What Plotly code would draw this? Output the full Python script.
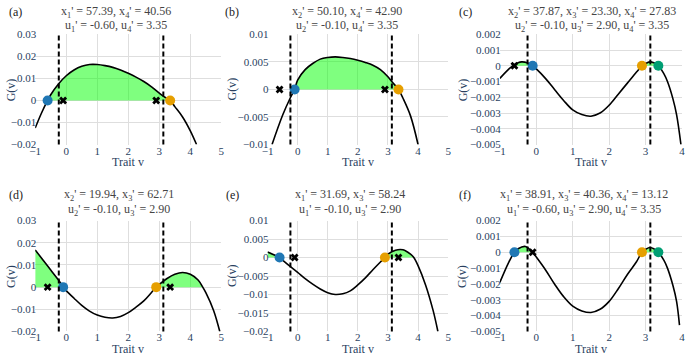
import plotly.graph_objects as go

FONT = "Liberation Serif"
W, H = 688, 360

# ---------------- data ----------------
traits = [-0.60, -0.10, 2.90, 3.35]          # u1..u4
dash_v = [-0.24, 3.13]                      # vertical dashed reference lines

v_a = [-1.0, -0.8, -0.6, -0.5, -0.25, 0, 0.25, 0.5, 0.75, 1.0, 1.25, 1.5, 1.75, 2.0,
       2.25, 2.5, 2.75, 3.0, 3.15, 3.35, 3.5, 3.75, 4.0, 4.2]
G_a = [-0.0125, -0.0058, 0, 0.0026, 0.0075, 0.0112, 0.0138, 0.0155, 0.0163, 0.0163,
       0.0158, 0.0150, 0.0138, 0.0123, 0.0106, 0.0086, 0.0062, 0.0033, 0.0017, 0,
       -0.0028, -0.0075, -0.0138, -0.0200]

v_b = [-0.85, -0.5, -0.25, -0.1, 0, 0.25, 0.5, 0.75, 1.0, 1.25, 1.5, 1.75, 2.0, 2.25,
       2.5, 2.75, 3.0, 3.15, 3.35, 3.5, 3.75, 4.0]
G_b = [-0.0100, -0.0047, -0.0016, 0, 0.0017, 0.0036, 0.0047, 0.0055, 0.0058, 0.0059,
       0.0058, 0.0056, 0.0053, 0.0049, 0.0044, 0.0036, 0.0023, 0.0013, 0, -0.0016,
       -0.0048, -0.0100]

v_c = [-1.0, -0.75, -0.65, -0.5, -0.4, -0.25, -0.1, 0, 0.25, 0.5, 0.75, 1.0, 1.25, 1.5,
       1.75, 2.0, 2.25, 2.5, 2.75, 2.9, 3.0, 3.15, 3.35, 3.5, 3.6, 3.75, 3.85, 3.97]
G_c = [-0.0008, -0.0002, 0, 0.0002, 0.00025, 0.0002, 0, -0.0002, -0.0008, -0.0015,
       -0.0022, -0.0028, -0.0031, -0.0032, -0.0030, -0.0025, -0.0018, -0.0011, -0.0004,
       0, 0.00015, 0.00025, 0, -0.0005, -0.0010, -0.0021, -0.0031, -0.0050]

v_d = [-1.0, -0.75, -0.5, -0.25, -0.1, 0, 0.25, 0.5, 0.75, 1.0, 1.25, 1.5, 1.75, 2.0,
       2.25, 2.5, 2.75, 2.9, 3.0, 3.25, 3.5, 3.75, 4.0, 4.25, 4.4, 4.5, 4.75, 4.95]
G_d = [0.0168, 0.0122, 0.0077, 0.0032, 0, -0.0016, -0.0050, -0.0082, -0.0108, -0.0126,
       -0.0136, -0.0139, -0.0132, -0.0115, -0.0090, -0.0062, -0.0024, 0, 0.0012, 0.0039,
       0.0058, 0.0066, 0.0058, 0.0032, 0, -0.0025, -0.0105, -0.0200]

v_e = [-1.0, -0.75, -0.6, -0.5, -0.25, 0, 0.25, 0.5, 0.75, 1.0, 1.25, 1.5, 1.75, 2.0,
       2.25, 2.5, 2.75, 2.9, 3.0, 3.25, 3.5, 3.75, 3.86, 4.0, 4.25, 4.5, 4.66]
G_e = [0.0015, 0.0006, 0, -0.0007, -0.0024, -0.0040, -0.0057, -0.0072, -0.0085, -0.0095,
       -0.0100, -0.0098, -0.0090, -0.0074, -0.0055, -0.0033, -0.0012, 0, 0.0009, 0.0020,
       0.0021, 0.0009, 0, -0.0022, -0.0074, -0.0143, -0.0200]

v_f = [-1.0, -0.75, -0.6, -0.5, -0.3, -0.1, 0, 0.25, 0.5, 0.75, 1.0, 1.25, 1.5, 1.75,
       2.0, 2.25, 2.5, 2.75, 2.9, 3.0, 3.12, 3.35, 3.5, 3.6, 3.75, 3.85, 3.93]
G_f = [-0.0019, -0.0006, 0, 0.00022, 0.00037, 0, -0.0003, -0.0011, -0.0020, -0.0028,
       -0.0034, -0.0037, -0.0038, -0.0036, -0.0031, -0.0023, -0.0014, -0.0006, 0, 0.00018,
       0.0003, 0, -0.0005, -0.0010, -0.0021, -0.0031, -0.0046]

panel_labels = ["(a)", "(b)", "(c)", "(d)", "(e)", "(f)"]
present = [[0, 3], [1, 3], [1, 2, 3], [1, 2], [0, 2], [0, 2, 3]]
x_vals = [[57.39, 40.56], [50.10, 42.90], [37.87, 23.30, 27.83],
          [19.94, 62.71], [31.69, 58.24], [38.91, 40.36, 13.12]]
u_vals = [[-0.60, 3.35], [-0.10, 3.35], [-0.10, 2.90, 3.35],
          [-0.10, 2.90], [-0.10, 2.90], [-0.60, 2.90, 3.35]]
x_ranges = [[-1, 5], [-1, 5], [-1, 4], [-1, 5], [-1, 5], [-1, 4]]
y_ranges = [[-0.02, 0.03], [-0.01, 0.01], [-0.005, 0.002],
            [-0.02, 0.03], [-0.02, 0.01], [-0.005, 0.002]]
y_dticks = [0.01, 0.005, 0.001, 0.01, 0.005, 0.001]

curves = [(v_a, G_a), (v_b, G_b), (v_c, G_c), (v_d, G_d), (v_e, G_e), (v_f, G_f)]

dot_colors = ["#1f77b4", "#E69F00", "#009E73"]

# ---------------- layout geometry (pixels) ----------------
col_px = [(29.6, 218.2), (265.0, 448.0), (500.4, 685.0)]
row_px = [(29.3, 143.3), (222.0, 336.7)]
title_cx = [111, 346, 594, 114, 349, 586]
title_y1 = [6, 6, 6, 196, 196, 196]
label_x = [1, 220, 457, 1, 221, 457]
ylab_x = [5, 229, 463, 5, 229, 462]

fig = go.Figure()
annotations = []
layout_axes = {}


def segments(v, g):
    segs, cur = [], []
    for vi, gi in zip(v, g):
        if gi >= 0:
            cur.append((vi, gi))
        else:
            if len(cur) > 1:
                segs.append(cur)
            cur = []
    if len(cur) > 1:
        segs.append(cur)
    return segs


for i in range(6):
    r, c = divmod(i, 3)
    xa = "x" if i == 0 else f"x{i+1}"
    ya = "y" if i == 0 else f"y{i+1}"
    v, g = curves[i]

    # green fill where G > 0
    for seg in segments(v, g):
        fig.add_trace(go.Scatter(x=[p[0] for p in seg], y=[p[1] for p in seg],
                                 mode="lines", line=dict(width=0, shape="spline"),
                                 fill="tozeroy", fillcolor="rgba(0,255,0,0.5)",
                                 xaxis=xa, yaxis=ya, showlegend=False, hoverinfo="skip"))
    # G curve
    fig.add_trace(go.Scatter(x=v, y=g, mode="lines",
                             line=dict(color="black", width=1.6, shape="spline"),
                             xaxis=xa, yaxis=ya, showlegend=False))
    # absent species traits (crosses)
    absent = [k for k in range(4) if k not in present[i]]
    fig.add_trace(go.Scatter(x=[traits[k] for k in absent], y=[0] * len(absent),
                             mode="markers",
                             marker=dict(symbol="x", size=7, color="black",
                                         line=dict(width=0)),
                             xaxis=xa, yaxis=ya, showlegend=False))
    # resident species traits (dots)
    fig.add_trace(go.Scatter(x=[traits[k] for k in present[i]], y=[0] * len(present[i]),
                             mode="markers",
                             marker=dict(size=10, color=dot_colors[:len(present[i])]),
                             xaxis=xa, yaxis=ya, showlegend=False))
    # dashed reference lines
    for dv in dash_v:
        fig.add_shape(type="line", xref=xa, yref=f"{ya} domain", x0=dv, x1=dv, y0=0, y1=1,
                      line=dict(color="black", width=2, dash="5px,3px"), layer="above")

    x0, x1 = col_px[c]
    y0, y1 = row_px[r]
    axis_common = dict(showgrid=True, gridcolor="#dedede", gridwidth=1, zeroline=False,
                       showline=False, ticks="", ticklabelstandoff=-2,
                       tickfont=dict(family=FONT, size=11, color="#2a3f5f"))
    layout_axes["xaxis" if i == 0 else f"xaxis{i+1}"] = dict(
        domain=[x0 / W, x1 / W], range=x_ranges[i], dtick=1, anchor=ya, **axis_common)
    layout_axes["yaxis" if i == 0 else f"yaxis{i+1}"] = dict(
        domain=[1 - y1 / H, 1 - y0 / H], range=y_ranges[i], dtick=y_dticks[i],
        anchor=xa, **axis_common)

    # titles
    idx = present[i]
    line1 = ", ".join(f"x<sub>{k+1}</sub>' = {val:.2f}" for k, val in zip(idx, x_vals[i]))
    line2 = ", ".join(f"u<sub>{k+1}</sub>' = {val:.2f}" for k, val in zip(idx, u_vals[i]))
    annotations.append(dict(text=line1, x=title_cx[i] / W, y=1 - title_y1[i] / H,
                            xref="paper", yref="paper", xanchor="center", yanchor="middle",
                            showarrow=False, font=dict(family=FONT, size=12, color="#444")))
    annotations.append(dict(text=line2, x=title_cx[i] / W, y=1 - (title_y1[i] + 15) / H,
                            xref="paper", yref="paper", xanchor="center", yanchor="middle",
                            showarrow=False, font=dict(family=FONT, size=12, color="#444")))
    annotations.append(dict(text=panel_labels[i], x=label_x[i] / W, y=1 - title_y1[i] / H,
                            xref="paper", yref="paper", xanchor="left", yanchor="middle",
                            showarrow=False, font=dict(family=FONT, size=12, color="#222")))
    # axis titles
    annotations.append(dict(text="Trait v", x=(x0 + x1) / 2 / W, y=1 - (y1 + 18) / H,
                            xref="paper", yref="paper", xanchor="center", yanchor="middle",
                            showarrow=False, font=dict(family=FONT, size=12, color="#2a3f5f")))
    annotations.append(dict(text="G(v)", x=ylab_x[i] / W, y=1 - ((y0 + y1) / 2) / H,
                            xref="paper", yref="paper", xanchor="center", yanchor="middle",
                            textangle=-90, showarrow=False,
                            font=dict(family=FONT, size=12, color="#2a3f5f")))

fig.update_layout(width=W, height=H, margin=dict(l=0, r=0, t=0, b=0),
                  paper_bgcolor="white", plot_bgcolor="white",
                  font=dict(family=FONT), annotations=annotations, **layout_axes)

fig.write_html("out.html", config={"displayModeBar": False},
               post_script="document.body.style.margin='0';"
                           "document.body.style.overflow='hidden';")
